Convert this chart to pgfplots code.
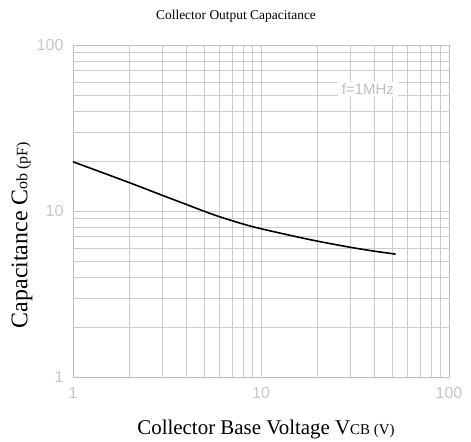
\documentclass[border=0pt]{standalone}
\usepackage{pgfplots}
\pgfplotsset{compat=1.18}
\usepackage{fontspec}
\setmainfont{Liberation Serif}
\newfontfamily\tickfont{Liberation Sans}
\begin{document}
\begin{tikzpicture}[x=1bp,y=1bp]
\path (-73,-62) rectangle (398,377);
\begin{axis}[name=ax, at={(0,0)}, anchor=south west,
  xmode=log, ymode=log, xmin=1, xmax=100, ymin=1, ymax=100,
  width=376bp, height=332bp, scale only axis,
  grid=both,
  major grid style={gray!40, line width=0.5bp},
  minor grid style={gray!40, line width=0.5bp},
  axis line style={gray!50, line width=0.6bp},
  tick style={draw=none},
  xtick={1,10,100}, ytick={1,10,100},
  xticklabels={1,10,100}, yticklabels={1,10,100},
  ticklabel style={font=\tickfont\fontsize{16}{16}\selectfont, text=gray!45},
  xticklabel style={yshift=-7bp},
  yticklabel style={xshift=-6bp},
  clip=false,
]
\addplot[black, line width=1.6bp, smooth, tension=0.6] coordinates {
  (1,19.8) (2,14.8) (3,12.4) (4,10.96) (5,9.95) (6,9.25) (8,8.36) (10,7.82)
  (15,7.05) (20,6.58) (30,6.04) (40,5.73) (52,5.5)
};
\node[fill=white, inner xsep=4bp, inner ysep=2bp, text=gray!50, font=\tickfont\fontsize{15}{15}\selectfont] at (axis cs:37,54) {f=1MHz};
\end{axis}
\node[anchor=base, font=\fontsize{13.5}{15}\selectfont] at (163,357) {Collector Output Capacitance};
\node[anchor=base, font=\fontsize{21}{24}\selectfont] at (193,-57) {Collector Base Voltage V{\fontsize{15}{16}\selectfont CB (V)}};
\node[anchor=center, rotate=90, font=\fontsize{24}{26}\selectfont] at (-51,142) {Capacitance C{\fontsize{16}{18}\selectfont ob (pF)}};
\end{tikzpicture}
\end{document}
